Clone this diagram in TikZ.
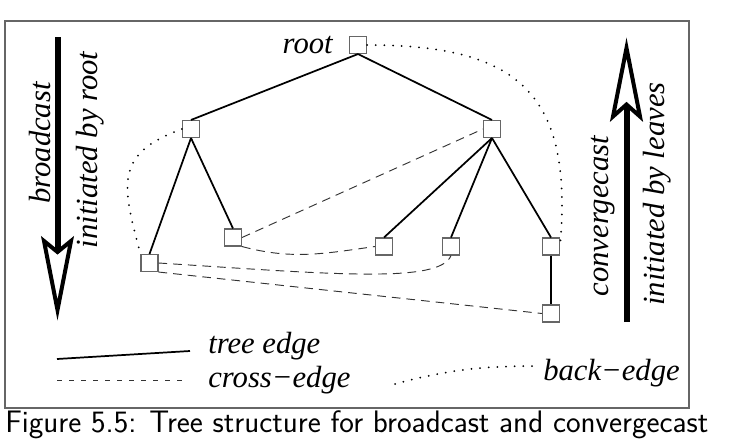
\documentclass[tikz,border=0pt]{standalone}
\usepackage{fontspec}
\setmainfont{Liberation Serif}
\usetikzlibrary{positioning}
\definecolor{boxgray}{gray}{0.4}
\begin{document}
\begin{tikzpicture}[
  x=0.75pt, y=0.75pt,
  vtx/.style={rectangle,draw=black!60,line width=0.8pt,fill=white,
    minimum size=12.75pt,inner sep=0pt},
  tree/.style={line width=1.3pt},
  cross/.style={black!80,line width=0.7pt,dash pattern=on 6.5pt off 4.5pt},
  back/.style={line width=1.5pt,line cap=round,dash pattern=on 0pt off 6.5pt},
  lbl/.style={inner sep=0pt,font=\fontsize{23}{27}\selectfont\itshape},
  bigarrow/.style={line width=4.5pt},
  arrowhead/.style={line width=3pt,fill=white}
]
\useasboundingbox (0,0) rectangle (742,444);
\draw[boxgray,line width=1pt] (5,36) rectangle (689,423);

% the tree
\node[vtx] (root) at (358,399) {};
\node[vtx] (l) at (191,315) {};
\node[vtx] (r) at (492,315) {};
\node[vtx] (ll) at (149.5,181) {};
\node[vtx] (lr) at (233,206.5) {};
\node[vtx] (ra) at (384,197.5) {};
\node[vtx] (rb) at (451,197.5) {};
\node[vtx] (rc) at (551,197.5) {};
\node[vtx] (rd) at (551,130.5) {};
\node[lbl,left=12pt of root] (rootlbl) {root};

\draw[tree] (root.south) -- (l.north);
\draw[tree] (root.south) -- (r.north);
\draw[tree] (l.south) -- (ll.north);
\draw[tree] (l.south) -- (lr.north);
\draw[tree] (r.south) -- (ra.north);
\draw[tree] (r.south) -- (rb.north);
\draw[tree] (r.south) -- (rc.north);
\draw[tree] (rc.south) -- (rd.north);

\draw[cross] (lr.east) -- (r.west);
\draw[cross] (lr.south east) to[out=-15,in=188] (ra.west);
\draw[cross] (ll.east) .. controls (330,170) and (440,160) .. (rb.south);
\draw[cross] (ll.south east) -- (rd.west);

\draw[back] (l.west) to[out=200,in=105,looseness=1.4] (ll.north west);
\draw[back] (root.east) to[out=0,in=85,looseness=1.4] (rc.east);

% broadcast / convergecast arrows
\coordinate (bctop) at (57.5,407);
\coordinate (bcnotch) at (57.5,192);
\draw[bigarrow] (bctop) -- (bcnotch);
\draw[arrowhead] (57.5,134) -- (71,203) -- (bcnotch) -- (44,203) -- cycle;
\node[lbl,rotate=90] (bc) at (40.5,301) {broadcast};
\node[lbl,rotate=90] (bcby) at (90,294) {initiated by root};

\coordinate (cvbot) at (626.5,122);
\coordinate (cvnotch) at (626.5,339.5);
\draw[bigarrow] (cvbot) -- (cvnotch);
\draw[arrowhead] (626.5,396) -- (640,327.5) -- (cvnotch) -- (613,327.5) -- cycle;
\node[lbl,rotate=90] (cv) at (603.5,228) {convergecast};
\node[lbl,rotate=90] (cvby) at (657.5,250) {initiated by leaves};

% legend
\coordinate (te1) at (57,85);
\coordinate (te2) at (190,93);
\coordinate (ce1) at (57,64);
\coordinate (ce2) at (185,64);
\coordinate (be1) at (395,60);
\coordinate (be2) at (540,78);
\draw[tree] (te1) -- (te2);
\draw[black!80,line width=0.7pt,dash pattern=on 4pt off 5pt] (ce1) -- (ce2);
\draw[back] (be1) to[out=15,in=180] (be2);
\node[lbl,anchor=base west] (tel) at (208,91) {tree edge};
\node[lbl,anchor=base west] (cel) at (208,57) {cross−edge};
\node[lbl,anchor=base west] (bel) at (543,64) {back−edge};

% caption
\node[anchor=base west,inner sep=0pt,font=\sffamily\fontsize{23.3}{27}\selectfont]
  (cap) at (5,12) {Figure 5.5: Tree structure for broadcast and convergecast};
\end{tikzpicture}
\end{document}
